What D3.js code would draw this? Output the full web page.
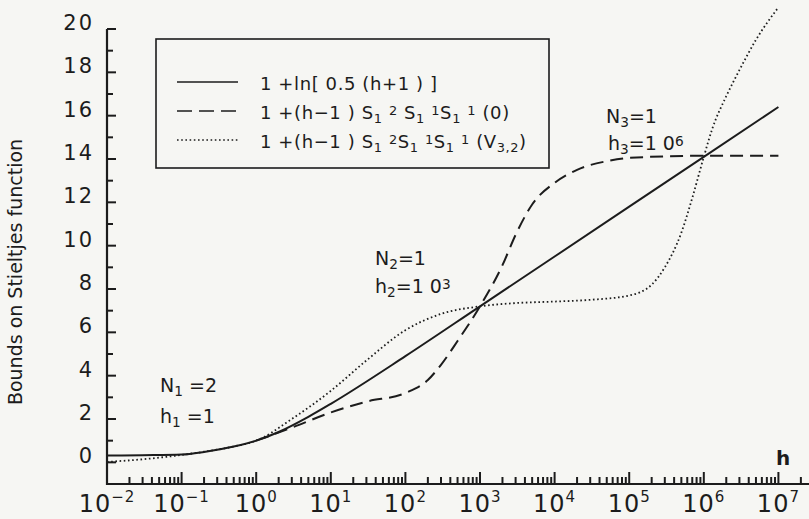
<!DOCTYPE html>
<html>
<head>
<meta charset="utf-8">
<script src="https://cdn.jsdelivr.net/npm/d3@7"></script>
<style>
  body { margin: 0; background: #f6f6f3; color: #1c1c1c; }
  svg { display: block; }
  text { font-family: "DejaVu Sans", sans-serif; fill: #1c1c1c; }
</style>
</head>
<body>
<div id="chart"></div>
<script>
const F_WIDTH = 809;
const F_HEIGHT = 519;
const PLOT = {left: 107, right: 809, top: 29, bottom: 484};

// decade exponents for the x tick labels
const EXPONENTS = [-2, -1, 0, 1, 2, 3, 4, 5, 6, 7];
const Y_LABELS = [0, 2, 4, 6, 8, 10, 12, 14, 16, 18, 20];
const Y_MINOR = [1, 3, 5, 7, 9, 11, 13, 15, 17, 19];

// 1 + ln[0.5(h+1)]
const H_SOLID = [0.01, 0.03, 0.1, 0.2, 0.5, 1, 2, 5, 10, 100, 1e3, 1e4, 1e5, 1e6, 1e7];
const SOLID   = [0.31, 0.33, 0.36, 0.48, 0.73, 1.0, 1.4, 2.1, 2.7, 4.9, 7.2, 9.5, 11.8, 14.1, 16.4];

// 1 + (h-1) S S S (0)
const H_DASHED = [1, 3, 10, 30, 100, 200, 300, 500, 1e3, 2e3, 3e3, 5e3, 1e4, 2e4, 5e4, 1e5, 1e6, 1e7];
const DASHED   = [1.0, 1.6, 2.3, 2.8, 3.2, 3.8, 4.5, 5.6, 7.2, 9.1, 10.5, 11.9, 12.9, 13.5, 13.9, 14.05, 14.15, 14.15];

// 1 + (h-1) S S S (V3,2)
const H_DOTTED = [0.01, 0.03, 0.1, 0.2, 0.5, 1, 3, 10, 30, 100, 300, 1e3, 3e3, 1e4, 3e4, 1e5, 2e5, 3e5, 5e5, 7e5, 1e6, 1.3e6, 2e6, 3e6, 5e6, 1e7];
const DOTTED   = [0.02, 0.14, 0.34, 0.49, 0.73, 1.0, 2.0, 3.3, 4.7, 6.1, 6.85, 7.2, 7.35, 7.42, 7.5, 7.7, 8.2, 9.0, 10.6, 12.2, 14.1, 15.4, 16.9, 18.1, 19.5, 21.0];

const INK = "#1c1c1c";

const FRAME = d3.select("#chart")
  .append("svg")
    .attr("width", F_WIDTH)
    .attr("height", F_HEIGHT);

const X_SCALE = d3.scaleLog()
  .domain([1e-2, Math.pow(10, 7.41)])
  .range([PLOT.left, PLOT.right]);

const Y_SCALE = d3.scaleLinear()
  .domain([-1, 20])
  .range([PLOT.bottom, PLOT.top]);

// minor x ticks 2..9 in every decade
let minor = [];
for (let e = -2; e <= 7; e++) {
  for (let k = 2; k <= 9; k++) {
    const v = k * Math.pow(10, e);
    if (X_SCALE(v) <= PLOT.right) minor.push(v);
  }
}
const decades = EXPONENTS.map(e => Math.pow(10, e));

// ticks, all pointing inward
const TICKS = FRAME.append("g")
    .attr("stroke", INK)
    .attr("stroke-width", 2);

TICKS.selectAll(".xminor")
  .data(minor)
  .enter()
  .append("line")
    .attr("x1", d => X_SCALE(d)).attr("x2", d => X_SCALE(d))
    .attr("y1", PLOT.bottom).attr("y2", PLOT.bottom - 7);

TICKS.selectAll(".xmajor")
  .data(decades)
  .enter()
  .append("line")
    .attr("x1", d => X_SCALE(d)).attr("x2", d => X_SCALE(d))
    .attr("y1", PLOT.bottom).attr("y2", PLOT.bottom - 12);

TICKS.selectAll(".yminor")
  .data(Y_MINOR)
  .enter()
  .append("line")
    .attr("x1", PLOT.left).attr("x2", PLOT.left + 6)
    .attr("y1", d => Y_SCALE(d)).attr("y2", d => Y_SCALE(d));

TICKS.selectAll(".ymajor")
  .data(Y_LABELS)
  .enter()
  .append("line")
    .attr("x1", PLOT.left).attr("x2", PLOT.left + 9)
    .attr("y1", d => Y_SCALE(d)).attr("y2", d => Y_SCALE(d));

// axis lines
FRAME.append("line")
    .attr("x1", PLOT.left).attr("x2", PLOT.right)
    .attr("y1", PLOT.bottom).attr("y2", PLOT.bottom)
    .attr("stroke", INK).attr("stroke-width", 2.2);
FRAME.append("line")
    .attr("x1", PLOT.left).attr("x2", PLOT.left)
    .attr("y1", PLOT.bottom + 1).attr("y2", PLOT.top)
    .attr("stroke", INK).attr("stroke-width", 2.2);

// x tick labels 10^e
const xLab = FRAME.append("g").selectAll("text")
  .data(EXPONENTS)
  .enter()
  .append("text")
    .attr("x", d => X_SCALE(Math.pow(10, d)))
    .attr("y", 512)
    .attr("text-anchor", "middle")
    .style("font-size", "24px")
    .style("letter-spacing", "1px");
xLab.append("tspan").text("10");
xLab.append("tspan")
    .attr("dy", -10)
    .style("font-size", "15px")
    .text(d => d < 0 ? "\u2212" + (-d) : d);

// y tick labels
FRAME.append("g").selectAll("text")
  .data(Y_LABELS)
  .enter()
  .append("text")
    .attr("x", PLOT.left - 13)
    .attr("y", d => Y_SCALE(d) + 1)
    .attr("text-anchor", "end")
    .style("font-size", "21px")
    .style("letter-spacing", "2px")
    .text(d => d);

// axis titles
FRAME.append("text")
    .attr("transform", "translate(22,272) rotate(-90)")
    .attr("text-anchor", "middle")
    .style("font-size", "19px")
    .text("Bounds on Stieltjes function");

FRAME.append("text")
    .attr("x", 783)
    .attr("y", 465)
    .attr("text-anchor", "middle")
    .style("font-size", "20px")
    .style("font-weight", "bold")
    .text("h");

// curves
const LINE = d3.line()
  .x(d => X_SCALE(d[0]))
  .y(d => Y_SCALE(d[1]))
  .curve(d3.curveMonotoneX);

const SERIES = [
  {h: H_SOLID, v: SOLID, dash: null, w: 2},
  {h: H_DASHED, v: DASHED, dash: "13,7", w: 2},
  {h: H_DOTTED, v: DOTTED, dash: "1.6,2.6", w: 1.8}
];

FRAME.append("g").selectAll("path")
  .data(SERIES)
  .enter()
  .append("path")
    .attr("d", s => LINE(s.h.map((h, i) => [h, s.v[i]])))
    .attr("fill", "none")
    .attr("stroke", INK)
    .attr("stroke-width", s => s.w)
    .attr("stroke-dasharray", s => s.dash);

// legend
const LEG = FRAME.append("g");
LEG.append("rect")
    .attr("x", 156).attr("y", 39)
    .attr("width", 393).attr("height", 129)
    .attr("fill", "none")
    .attr("stroke", INK)
    .attr("stroke-width", 1.6);

const LEG_Y = [82, 111, 140];
LEG.selectAll("line")
  .data(SERIES)
  .enter()
  .append("line")
    .attr("x1", 177).attr("x2", 238)
    .attr("y1", (s, i) => LEG_Y[i]).attr("y2", (s, i) => LEG_Y[i])
    .attr("stroke", INK)
    .attr("stroke-width", s => s.w - 0.4)
    .attr("stroke-dasharray", (s, i) => i == 1 ? "15,7" : s.dash);

// text pieces: [text, kind] where kind: n normal, b sub, p sup
const LEG_TEXT = [
  [["1 +ln[ 0.5 (h+1 ) ]", "n"]],
  [["1 +(h\u22121 ) S", "n"], ["1", "b"], [" ", "n"], ["2", "p"], [" S", "n"], ["1", "b"], [" ", "n"], ["1", "p"], ["S", "n"], ["1", "b"], [" ", "n"], ["1", "p"], [" (0)", "n"]],
  [["1 +(h\u22121 ) S", "n"], ["1", "b"], [" ", "n"], ["2", "p"], ["S", "n"], ["1", "b"], [" ", "n"], ["1", "p"], ["S", "n"], ["1", "b"], [" ", "n"], ["1", "p"], [" (V", "n"], ["3,2", "b"], [")", "n"]]
];

function richText(sel, parts, size) {
  let level = 0;
  parts.forEach(p => {
    const target = p[1] == "b" ? 4 : p[1] == "p" ? -4 : 0;
    sel.append("tspan")
        .attr("dy", target - level)
        .style("font-size", p[1] == "n" ? size + "px" : (size * 0.72) + "px")
        .text(p[0]);
    level = target;
  });
}

LEG_TEXT.forEach((parts, i) => {
  const t = LEG.append("text")
      .attr("x", 260)
      .attr("y", LEG_Y[i] + 8)
      .style("font-size", "18px")
      .style("letter-spacing", "0.6px");
  richText(t, parts, 18);
});

// annotations
const NOTES = [
  {x: 160, y: 392, parts: [["N", "n"], ["1", "b"], [" =2", "n"]]},
  {x: 160, y: 423, parts: [["h", "n"], ["1", "b"], [" =1", "n"]]},
  {x: 375, y: 265, parts: [["N", "n"], ["2", "b"], ["=1", "n"]]},
  {x: 375, y: 293, parts: [["h", "n"], ["2", "b"], ["=1 0", "n"], ["3", "p"]]},
  {x: 606, y: 123, parts: [["N", "n"], ["3", "b"], ["=1", "n"]]},
  {x: 608, y: 150, parts: [["h", "n"], ["3", "b"], ["=1 0", "n"], ["6", "p"]]}
];

NOTES.forEach(n => {
  const t = FRAME.append("text")
      .attr("x", n.x)
      .attr("y", n.y)
      .style("font-size", "19px");
  richText(t, n.parts, 19);
});
</script>
</body>
</html>
